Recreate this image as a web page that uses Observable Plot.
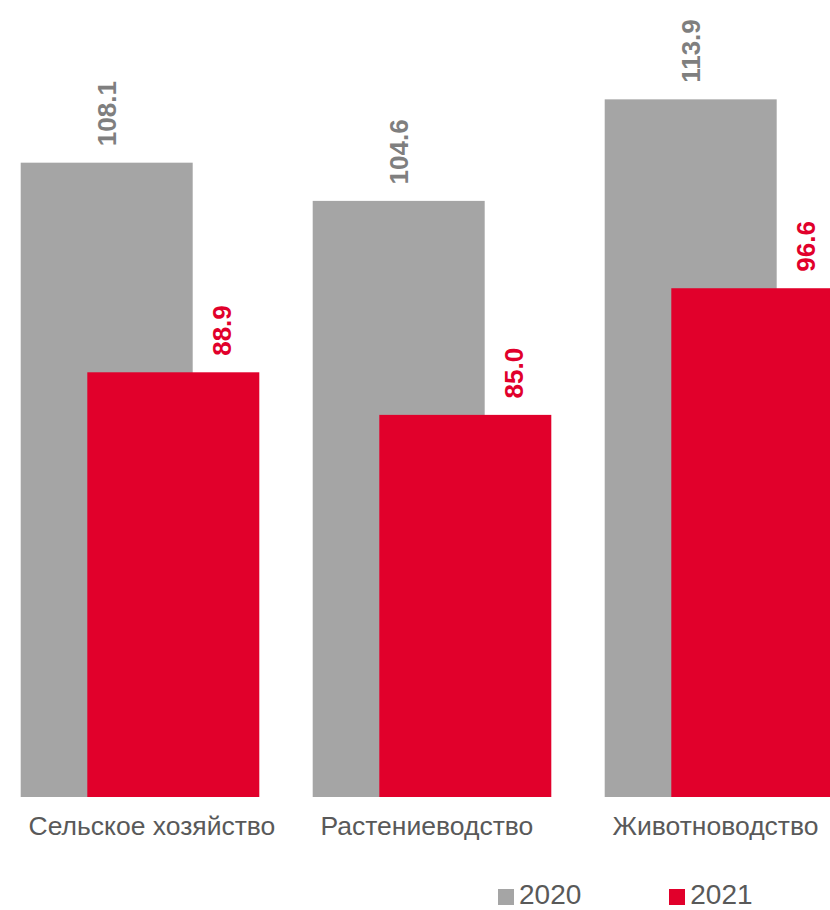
<!DOCTYPE html>
<html>
<head>
<meta charset="utf-8">
<script src="https://cdn.jsdelivr.net/npm/d3@7"></script>
<script src="https://cdn.jsdelivr.net/npm/@observablehq/plot@0.6"></script>
<style>
  html, body { margin: 0; padding: 0; background: #fff; overflow: hidden; }
  body { width: 830px; height: 910px; position: relative; font-family: "Liberation Sans", Arial, sans-serif; }
  #chart svg { overflow: hidden; }
  #legend { position: absolute; top: 881px; left: 498px; display: flex; align-items: center; height: 28px; line-height: 28px; font-size: 28px; color: #595959; }
  #legend .item { display: flex; align-items: center; }
  #legend .sw { width: 16px; height: 16px; margin-right: 5px; margin-top: 3px; }
</style>
</head>
<body>
<div id="chart"></div>
<div id="legend"></div>
<script>
const categories = ["Сельское хозяйство", "Растениеводство", "Животноводство"];
const values2020 = [108.1, 104.6, 113.9];
const values2021 = [88.9, 85.0, 96.6];
const seriesNames = ["2020", "2021"];
const seriesColors = ["#A5A5A5", "#E1002B"];
const labelColors = ["#7F7F7F", "#E1002B"];
const yDomain = [50, 123];

const rows2020 = categories.map((c, i) => ({category: c, value: values2020[i]}));
const rows2021 = categories.map((c, i) => ({category: c, value: values2021[i]}));
const fmt = d3.format(".1f");
const font = "Liberation Sans, Arial, sans-serif";

const chart = Plot.plot({
  width: 830,
  height: 860,
  marginTop: 0,
  marginBottom: 63,
  marginLeft: 53,
  marginRight: 20,
  style: {fontFamily: font, background: "white"},
  x: {domain: categories, paddingInner: 0.4116, paddingOuter: 0},
  y: {domain: yDomain, axis: null},
  marks: [
    Plot.barY(rows2020, {x: "category", y1: yDomain[0], y2: "value", fill: seriesColors[0], dx: -33.3, inset: 0}),
    Plot.barY(rows2021, {x: "category", y1: yDomain[0], y2: "value", fill: seriesColors[1], dx: 33.3, inset: 0}),
    Plot.text(rows2020, {x: "category", y: "value", text: d => fmt(d.value), rotate: -90, textAnchor: "start",
      dx: -33.3, dy: -17, fill: labelColors[0], fontSize: 26, fontWeight: "bold"}),
    Plot.text(rows2021, {x: "category", y: "value", text: d => fmt(d.value), rotate: -90, textAnchor: "start",
      dx: 82, dy: -17, fill: labelColors[1], fontSize: 26, fontWeight: "bold"}),
    Plot.axisX({tickSize: 0, tickPadding: 19, fontSize: 26.5, textAnchor: "start", dx: -112, fill: "#595959", label: null})
  ]
});
document.getElementById("chart").appendChild(chart);

const legend = d3.select("#legend");
seriesNames.forEach((name, i) => {
  const item = legend.append("div").attr("class", "item").style("margin-right", i === 0 ? "88px" : "0");
  item.append("div").attr("class", "sw").style("background", seriesColors[i]);
  item.append("span").text(name);
});
</script>
</body>
</html>
